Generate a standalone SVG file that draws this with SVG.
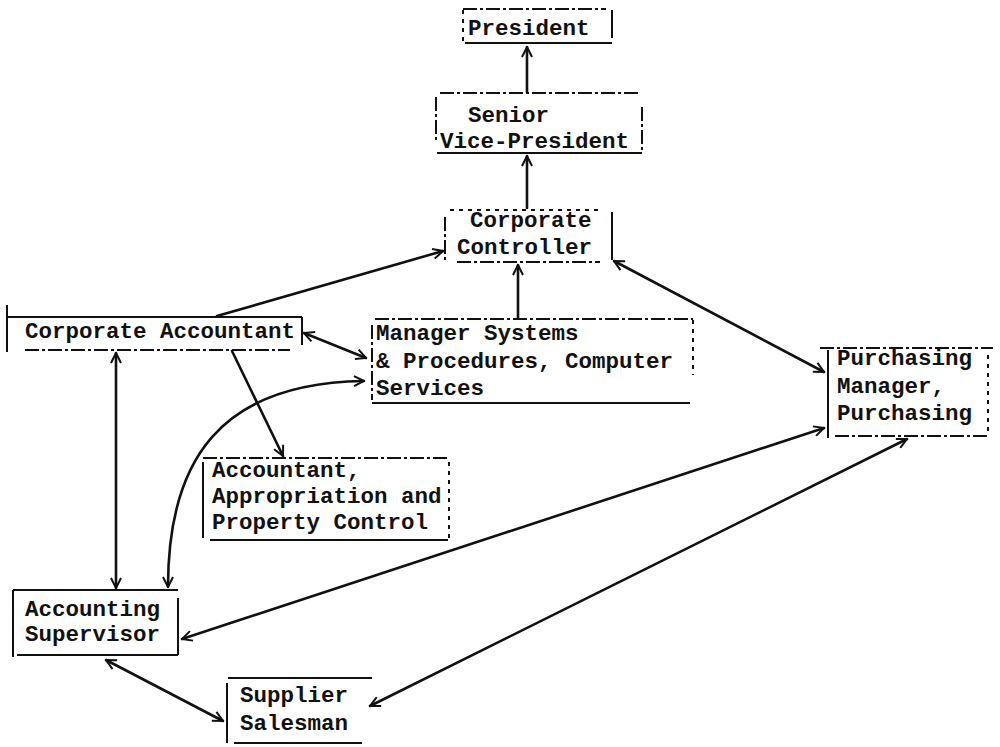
<svg xmlns="http://www.w3.org/2000/svg" width="1000" height="747" viewBox="0 0 1000 747">
  <style>
    text { font-family: "Liberation Mono", "DejaVu Sans Mono", monospace; font-weight: bold; font-size: 22.5px; fill: #111; }
    .edge { stroke: #111; stroke-width: 2; fill: none; }
    .dash { stroke: #111; stroke-width: 2; fill: none; stroke-dasharray: 14 3 3 3; }
    .dot { stroke: #111; stroke-width: 2; fill: none; stroke-dasharray: 4 5; }
    .link { stroke: #111; stroke-width: 2.6; fill: none; stroke-linecap: round; }
  </style>
  <defs>
    <marker id="head" viewBox="0 0 12 12" refX="11" refY="6" markerWidth="12" markerHeight="12" markerUnits="userSpaceOnUse" orient="auto-start-reverse">
      <path d="M1,1 L11,6 L1,11" fill="none" stroke="#111" stroke-width="2"/>
    </marker>
  </defs>
  <rect width="1000" height="747" fill="#fff"/>

  <!-- connectors -->
  <g id="connectors">
    <line class="link" x1="527" y1="92" x2="527" y2="47" marker-end="url(#head)"/>
    <line class="link" x1="527" y1="208" x2="527" y2="156" marker-end="url(#head)"/>
    <line class="link" x1="518" y1="318" x2="518" y2="265" marker-end="url(#head)"/>
    <line class="link" x1="217" y1="316" x2="443" y2="251" marker-end="url(#head)"/>
    <line class="link" x1="304" y1="333" x2="366" y2="358" marker-start="url(#head)" marker-end="url(#head)"/>
    <line class="link" x1="116" y1="353" x2="116" y2="588" marker-start="url(#head)" marker-end="url(#head)"/>
    <line class="link" x1="232" y1="351" x2="283" y2="456" marker-end="url(#head)"/>
    <path class="link" d="M168,587 C168,460 220,383 364,381" marker-start="url(#head)" marker-end="url(#head)"/>
    <line class="link" x1="614" y1="261" x2="824" y2="372" marker-start="url(#head)" marker-end="url(#head)"/>
    <line class="link" x1="182" y1="639" x2="824" y2="428" marker-start="url(#head)" marker-end="url(#head)"/>
    <line class="link" x1="106" y1="660" x2="223" y2="721" marker-start="url(#head)" marker-end="url(#head)"/>
    <line class="link" x1="907" y1="439" x2="370" y2="706" marker-start="url(#head)" marker-end="url(#head)"/>
  </g>

  <g id="president">
    <path class="dash" d="M463,9 H606"/>
    <path class="dot" d="M463,10 V44"/>
    <path class="edge" d="M612,10 V38"/>
    <path class="edge" d="M465,43 H612"/>
    <text x="468" y="35">President</text>
  </g>

  <g id="senior-vp">
    <path class="dash" d="M440,93 H640"/>
    <path class="dash" d="M436,97 V140"/>
    <path class="dash" d="M642,107 V153"/>
    <path class="edge" d="M437,153 H642"/>
    <text x="468" y="122">Senior</text>
    <text x="440" y="148">Vice-President</text>
  </g>

  <g id="controller">
    <path class="dot" d="M450,210 H600"/>
    <path class="dash" d="M445,217 V260"/>
    <path class="edge" d="M612,212 V260"/>
    <path class="dash" d="M457,262 H600"/>
    <text x="470" y="227">Corporate</text>
    <text x="457" y="254">Controller</text>
  </g>

  <g id="corporate-accountant">
    <path class="edge" d="M7,317 H302"/>
    <path class="edge" d="M7,305 V352"/>
    <path class="edge" d="M302,317 V345"/>
    <path class="dash" d="M25,350 H290"/>
    <text x="25" y="338">Corporate Accountant</text>
  </g>

  <g id="manager-systems">
    <path class="dash" d="M375,319 H693"/>
    <path class="dash" d="M372,325 V400"/>
    <path class="dot" d="M693,320 V375"/>
    <path class="edge" d="M372,403 H690"/>
    <text x="376" y="340">Manager Systems</text>
    <text x="376" y="368">&amp; Procedures, Computer</text>
    <text x="376" y="395">Services</text>
  </g>

  <g id="purchasing">
    <path class="dash" d="M820,348 H993"/>
    <path class="edge" d="M828,350 V438"/>
    <path class="dot" d="M988,355 V432"/>
    <path class="dash" d="M835,436 H990"/>
    <text x="837" y="365">Purchasing</text>
    <text x="837" y="393">Manager,</text>
    <text x="837" y="420">Purchasing</text>
  </g>

  <g id="appropriation">
    <path class="dash" d="M203,458 H448"/>
    <path class="edge" d="M203,462 V538"/>
    <path class="dot" d="M449,462 V538"/>
    <path class="edge" d="M210,540 H448"/>
    <text x="212" y="477">Accountant,</text>
    <text x="212" y="503">Appropriation and</text>
    <text x="212" y="529">Property Control</text>
  </g>

  <g id="accounting-supervisor">
    <path class="edge" d="M13,590 H178"/>
    <path class="edge" d="M13,590 V657"/>
    <path class="edge" d="M178,598 V655"/>
    <path class="edge" d="M17,655 H178"/>
    <text x="25" y="616">Accounting</text>
    <text x="25" y="641">Supervisor</text>
  </g>

  <g id="supplier-salesman">
    <path class="edge" d="M228,678 H372"/>
    <path class="edge" d="M227,683 V743"/>
    <path class="edge" d="M234,743 H362"/>
    <text x="240" y="702">Supplier</text>
    <text x="240" y="730">Salesman</text>
  </g>
</svg>
